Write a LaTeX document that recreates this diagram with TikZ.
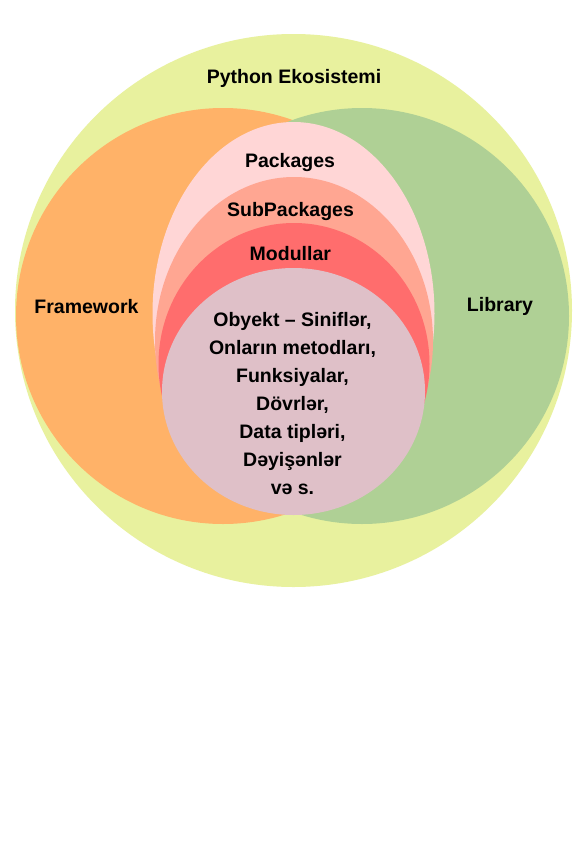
\documentclass[tikz,border=0pt]{standalone}
\usepackage{fontspec}
\setmainfont{Liberation Sans}
\definecolor{ecoC}{RGB}{232,241,158}
\definecolor{frameC}{RGB}{255,178,104}
\definecolor{libC}{RGB}{175,208,149}
\definecolor{packC}{RGB}{255,214,214}
\definecolor{subC}{RGB}{255,166,146}
\definecolor{modC}{RGB}{255,109,109}
\definecolor{coreC}{RGB}{223,192,200}
\tikzset{
  lbl/.style={font=\fontsize{19.5}{28}\selectfont\bfseries, text=black, align=center, inner sep=0pt}
}
\begin{document}
\begin{tikzpicture}[x=1pt,y=-1pt]
\useasboundingbox[fill=white] (0,0) rectangle (586,854);
% ecosystem
\fill[ecoC] (293.5,310.5) ellipse [x radius=278.5, y radius=276.5];
% framework and library
\fill[frameC] (223,316) ellipse [x radius=207, y radius=208];
\fill[libC] (362,316) ellipse [x radius=207, y radius=208];
% nested packages
\fill[packC] (293.5,313.5) ellipse [x radius=141, y radius=191.5];
\fill[subC] (294,341) ellipse [x radius=139, y radius=164];
\fill[modC] (294,364) ellipse [x radius=135.5, y radius=141];
\fill[coreC] (293.5,391.5) ellipse [x radius=131.5, y radius=123.5];
% labels
\node[lbl] (eco) at (294,78) {Python Ekosistemi};
\node[lbl] (fw) at (86.5,307) {Framework};
\node[lbl] (lib) at (500,306) {Library};
\node[lbl] (pk) at (290,162.5) {Packages};
\node[lbl] (sp) at (290.5,211.5) {SubPackages};
\node[lbl] (md) at (290.3,254) {Modullar};
\node[lbl] (core) at (292.5,404) {Obyekt – Siniflər,\\Onların metodları,\\Funksiyalar,\\Dövrlər,\\Data tipləri,\\Dəyişənlər\\və s.};
\end{tikzpicture}
\end{document}
